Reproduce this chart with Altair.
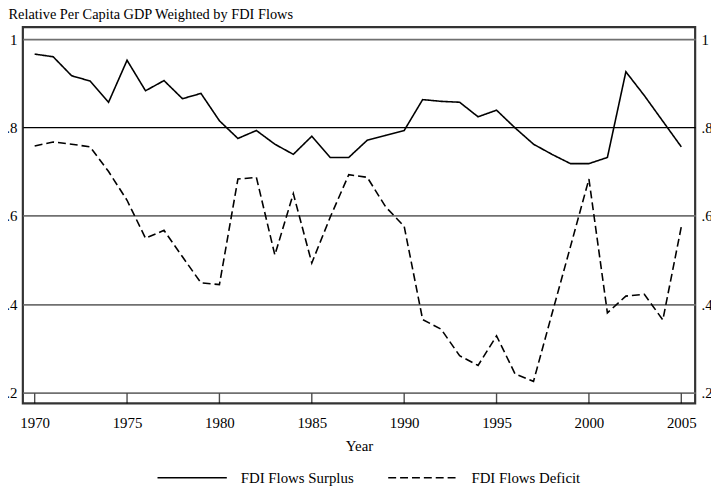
import altair as alt
import pandas as pd

years = list(range(1970, 2006))
surplus = [0.966, 0.960, 0.917, 0.905, 0.857, 0.952, 0.883, 0.906, 0.865, 0.877,
           0.815, 0.775, 0.793, 0.762, 0.739, 0.780, 0.732, 0.732, 0.771, 0.782,
           0.793, 0.863, 0.859, 0.857, 0.824, 0.839, 0.799, 0.762, 0.739, 0.718,
           0.718, 0.732, 0.926, 0.872, 0.814, 0.756]
deficit = [0.758, 0.767, 0.762, 0.756, 0.700, 0.635, 0.549, 0.567, 0.507, 0.448,
           0.444, 0.683, 0.687, 0.511, 0.650, 0.493, 0.597, 0.693, 0.687, 0.620,
           0.576, 0.365, 0.343, 0.283, 0.261, 0.328, 0.242, 0.225, 0.378, 0.530,
           0.683, 0.380, 0.418, 0.422, 0.364, 0.575]
series_names = ["FDI Flows Surplus", "FDI Flows Deficit"]
tick_years = [1970, 1975, 1980, 1985, 1990, 1995, 2000, 2005]
y_ticks = [0.2, 0.4, 0.6, 0.8, 1.0]

rows = []
for i, yr in enumerate(years):
    rows.append({"Year": yr, "Series": series_names[0], "Value": surplus[i]})
    rows.append({"Year": yr, "Series": series_names[1], "Value": deficit[i]})
df = pd.DataFrame(rows)
ticks_df = pd.DataFrame({"Year": tick_years})

FONT = "Liberation Serif"
xdom = [1969.36, 2005.75]
ydom = [0.1749, 1.0269]

x_enc = alt.X("Year:Q", scale=alt.Scale(domain=xdom, nice=False, zero=False),
              axis=alt.Axis(values=tick_years, format="d", title="Year",
                            domain=False, ticks=False, grid=False,
                            labelPadding=12, titlePadding=9))

label_expr = "datum.value >= 1 ? '1' : '.' + round(datum.value * 10)"

lines = alt.Chart(df).mark_line(color="black", strokeWidth=1.6).encode(
    x=x_enc,
    y=alt.Y("Value:Q", scale=alt.Scale(domain=ydom, nice=False, zero=False),
            axis=alt.Axis(orient="left", values=y_ticks, labelExpr=label_expr,
                          domain=False, ticks=False, grid=True,
                          gridColor={"condition": {"test": "datum.value === 0.8", "value": "black"}, "value": "#707070"},
                          gridWidth={"condition": {"test": "datum.value === 0.8", "value": 1.2}, "value": 1.8},
                          labelPadding=6,
                          title="Relative Per Capita GDP Weighted by FDI Flows",
                          titleAngle=0, titleAlign="left", titleBaseline="middle",
                          titleX=-15, titleY=-13, titleFontSize=14.5)),
    strokeDash=alt.StrokeDash("Series:N",
                              scale=alt.Scale(domain=series_names, range=[[1, 0], [8, 4]]),
                              legend=alt.Legend(title=None, orient="none", direction="horizontal",
                                                legendX=135, legendY=419,
                                                symbolType="stroke", symbolSize=4900,
                                                symbolStrokeWidth=1.6, symbolStrokeColor="black",
                                                labelFontSize=15, labelOffset=13,
                                                columnPadding=30)),
    detail="Series:N",
)

right = alt.Chart(df).mark_line(opacity=0).encode(
    x=x_enc,
    y=alt.Y("Value:Q", scale=alt.Scale(domain=ydom, nice=False, zero=False),
            axis=alt.Axis(orient="right", values=y_ticks, labelExpr=label_expr,
                          domain=False, ticks=False, grid=False, labelPadding=6,
                          title=None)),
    detail="Series:N",
)

ticks = alt.Chart(ticks_df).mark_tick(color="black", thickness=1.4, size=10, orient="vertical").encode(
    x=x_enc,
    y=alt.value(375),
)

chart = alt.layer(lines, ticks, right).resolve_scale(y="independent").properties(
    width=679, height=380,
    autosize=alt.AutoSizeParams(type="none"),
    padding={"left": 15, "top": 17, "right": 16, "bottom": 85},
).configure(font=FONT).configure_view(
    stroke="#333333", strokeWidth=2.2
).configure_axis(
    labelFont=FONT, titleFont=FONT, labelFontSize=15, titleFontSize=15,
    labelColor="black", titleColor="black", titleFontWeight="normal"
).configure_legend(
    labelFont=FONT, labelColor="black"
)

chart.save("out.html", embed_options={"renderer": "svg", "actions": False})
